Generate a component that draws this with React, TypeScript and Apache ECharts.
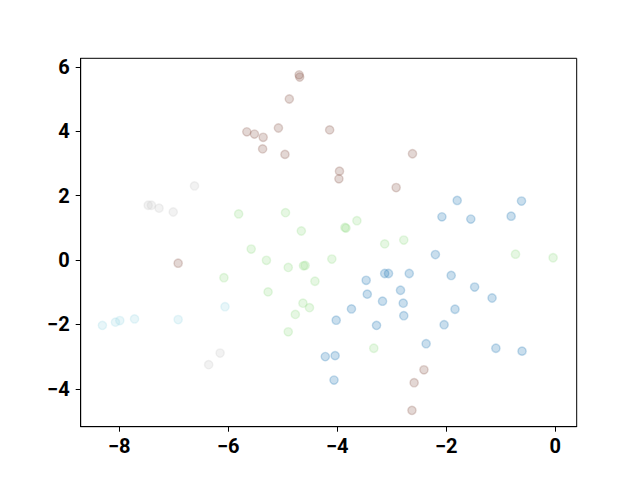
import React, { useEffect, useRef } from "react";
import * as echarts from "echarts";

const xTicks = [-8, -6, -4, -2, 0];
const yTicks = [-4, -2, 0, 2, 4, 6];

const blueCluster: [number, number][] = [
  [-1.80, 1.85], [-0.62, 1.83], [-2.08, 1.34], [-1.55, 1.27], [-0.81, 1.36],
  [-2.20, 0.17], [-3.13, -0.42], [-3.06, -0.42], [-2.68, -0.42], [-1.91, -0.48],
  [-3.47, -0.63], [-1.48, -0.84], [-1.16, -1.18], [-3.45, -1.06], [-2.84, -0.94],
  [-3.17, -1.28], [-2.79, -1.34], [-1.84, -1.53], [-3.74, -1.52], [-2.78, -1.73],
  [-4.02, -1.87], [-3.28, -2.03], [-2.04, -2.01], [-2.37, -2.60], [-1.09, -2.74],
  [-0.61, -2.83], [-4.22, -3.00], [-4.04, -2.97], [-4.06, -3.73],
];

const greenCluster: [number, number][] = [
  [-5.81, 1.43], [-4.95, 1.47], [-4.66, 0.90], [-5.58, 0.34], [-3.86, 1.01],
  [-3.84, 0.99], [-3.64, 1.22], [-3.13, 0.50], [-2.78, 0.62], [-5.30, -0.01],
  [-4.90, -0.23], [-4.62, -0.18], [-4.59, -0.17], [-4.41, -0.66], [-6.08, -0.55],
  [-5.27, -0.99], [-4.63, -1.34], [-4.51, -1.48], [-4.77, -1.69], [-4.90, -2.23],
  [-4.10, 0.03], [-3.33, -2.74], [-0.73, 0.18], [-0.04, 0.07],
];

const brownCluster: [number, number][] = [
  [-4.70, 5.75], [-4.69, 5.68], [-4.88, 5.00], [-5.66, 3.98], [-5.52, 3.91],
  [-5.36, 3.81], [-5.37, 3.45], [-5.08, 4.10], [-4.96, 3.28], [-4.14, 4.04],
  [-3.96, 2.76], [-3.97, 2.52], [-2.62, 3.30], [-2.92, 2.25], [-6.92, -0.10],
  [-2.41, -3.41], [-2.59, -3.81], [-2.63, -4.67],
];

const greyCluster: [number, number][] = [
  [-6.62, 2.30], [-7.47, 1.70], [-7.41, 1.70], [-7.27, 1.61], [-7.01, 1.49],
  [-6.15, -2.89], [-6.36, -3.25],
];

const cyanCluster: [number, number][] = [
  [-8.31, -2.03], [-8.07, -1.93], [-7.99, -1.88], [-7.72, -1.83], [-6.92, -1.85],
  [-6.06, -1.45],
];

const clusters = [
  { name: "c0", data: blueCluster, rgb: "31,119,180" },
  { name: "c1", data: greenCluster, rgb: "152,223,138" },
  { name: "c2", data: brownCluster, rgb: "140,86,75" },
  { name: "c3", data: greyCluster, rgb: "199,199,199" },
  { name: "c4", data: cyanCluster, rgb: "158,218,229" },
];

const fmt = (v: number) => String(v).replace("-", "\u2212");

export default function App() {
  const ref = useRef<HTMLDivElement>(null);
  useEffect(() => {
    if (!ref.current) return;
    const chart = echarts.init(ref.current, null, { renderer: "svg" });
    const labelStyle = {
      color: "#000",
      fontSize: 20,
      fontWeight: "bold" as const,
      fontFamily: "Roboto",
    };
    chart.setOption({
      animation: false,
      backgroundColor: "#fff",
      grid: {
        left: 80.7,
        right: 63.3,
        top: 58.3,
        bottom: 53.3,
        show: true,
        borderColor: "#000",
        borderWidth: 1,
        backgroundColor: "transparent",
      },
      xAxis: {
        type: "value",
        min: -8.708,
        max: 0.393,
        splitLine: { show: false },
        axisLine: { show: true, onZero: false, lineStyle: { color: "#000", width: 1 } },
        axisTick: { show: true, length: 5, customValues: xTicks, lineStyle: { color: "#000" } },
        axisLabel: { ...labelStyle, margin: 9, customValues: xTicks, formatter: fmt },
      },
      yAxis: {
        type: "value",
        min: -5.177,
        max: 6.264,
        splitLine: { show: false },
        axisLine: { show: true, onZero: false, lineStyle: { color: "#000", width: 1 } },
        axisTick: { show: true, length: 5, customValues: yTicks, lineStyle: { color: "#000" } },
        axisLabel: { ...labelStyle, margin: 11, customValues: yTicks, formatter: fmt },
      },
      series: clusters.map((c) => ({
        type: "scatter",
        name: c.name,
        data: c.data,
        symbol: "circle",
        symbolSize: 8.3,
        itemStyle: {
          color: `rgba(${c.rgb},0.3)`,
          borderColor: `rgba(${c.rgb},0.3)`,
          borderWidth: 1.4,
        },
        emphasis: { disabled: true },
      })),
    });
    return () => chart.dispose();
  }, []);
  return (
    <div
      ref={ref}
      style={{ position: "fixed", left: 0, top: 0, width: 640, height: 480 }}
    />
  );
}
